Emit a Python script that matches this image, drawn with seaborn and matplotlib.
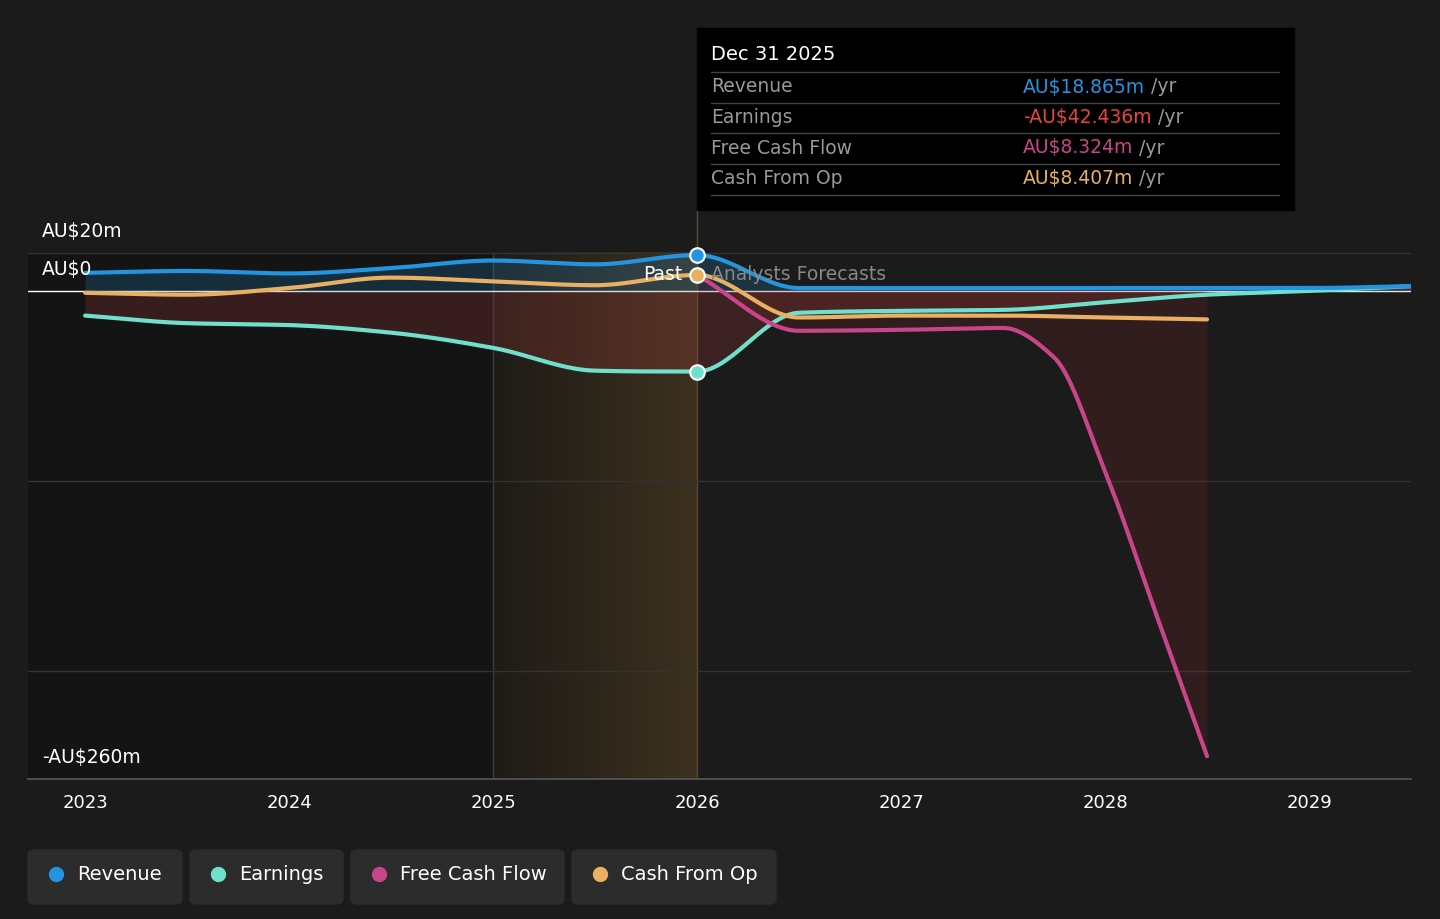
import matplotlib.pyplot as plt
import seaborn as sns
import numpy as np
from matplotlib.patches import FancyBboxPatch, Rectangle

sns.set_theme(style="dark")
plt.rcParams["font.family"] = ["DejaVu Sans"]

BG = "#1b1b1b"
C_REV = "#2394df"
C_EARN = "#6ee0cb"
C_FCF = "#c8458a"
C_CFO = "#e8b063"

# values in AU$m
rev_x = [2023, 2023.5, 2024, 2024.5, 2025, 2025.5, 2026, 2026.5, 2027, 2027.5, 2028, 2028.5, 2029, 2029.5]
rev_y = [9.5, 10.5, 9.2, 12, 16, 14, 18.865, 1.5, 1.5, 1.5, 1.5, 1.5, 1.5, 2.5]
earn_x = [2023, 2023.5, 2024, 2024.5, 2025, 2025.5, 2025.75, 2026, 2026.5, 2027, 2027.5, 2028, 2028.5, 2029, 2029.5]
earn_y = [-13, -17, -18, -22, -30, -42, -42.4, -42.436, -11.5, -10.5, -10, -6, -2, 0, 2.5]
fcf_x = [2026, 2026.5, 2027, 2027.5, 2027.75, 2028, 2028.25, 2028.5]
fcf_y = [8.324, -21, -20.5, -19.5, -35, -95, -170, -245]
cfo_x = [2023, 2023.5, 2024, 2024.5, 2025, 2025.5, 2026, 2026.5, 2027, 2027.5, 2028, 2028.5]
cfo_y = [-1, -2, 1.5, 7, 5, 3, 8.407, -14, -13, -13, -14, -15]


def smooth(x, y, n=40):
    # monotone cubic (PCHIP-like) interpolation
    x = np.asarray(x, float); y = np.asarray(y, float)
    h = np.diff(x); d = np.diff(y) / h
    m = np.zeros_like(y)
    for i in range(1, len(y) - 1):
        if d[i - 1] * d[i] > 0:
            w1 = 2 * h[i] + h[i - 1]; w2 = h[i] + 2 * h[i - 1]
            m[i] = (w1 + w2) / (w1 / d[i - 1] + w2 / d[i])
    m[0] = d[0]; m[-1] = d[-1]
    xs, ys = [], []
    for i in range(len(x) - 1):
        t = np.linspace(0, 1, n, endpoint=False)
        h00 = 2 * t**3 - 3 * t**2 + 1; h10 = t**3 - 2 * t**2 + t
        h01 = -2 * t**3 + 3 * t**2; h11 = t**3 - t**2
        xs.extend(x[i] + h[i] * t)
        ys.extend(h00 * y[i] + h10 * h[i] * m[i] + h01 * y[i + 1] + h11 * h[i] * m[i + 1])
    xs.append(x[-1]); ys.append(y[-1])
    return np.array(xs), np.array(ys)


fig = plt.figure(figsize=(14.4, 9.19), dpi=100, facecolor=BG)
ax = fig.add_axes([28 / 1440, 1 - 779 / 919, (1411 - 28) / 1440, (779 - 210) / 919])
ax.set_facecolor(BG)
ax.set_xlim(2022.72, 2029.5)
ax.set_ylim(-257, 42.6)

# past region
ax.axvspan(2022.72, 2026, ymax=(20 + 257) / 299.6, color="#141414", zorder=0)
grad = np.linspace(0, 1, 256).reshape(1, -1)
ax.imshow(grad, extent=[2025, 2026, -257, 20], aspect="auto", cmap=sns.blend_palette(["#1e1b16", "#3d3120"], as_cmap=True), zorder=0.5)
ax.axvline(2025, color="#3a3a3a", lw=1, zorder=1, ymax=(20 + 257) / 299.6)
ax.axvline(2026, color="#5a4a30", lw=1, zorder=1)

for g in [20, -100, -200]:
    ax.axhline(g, color="#333333", lw=1, zorder=1)
ax.axhline(0, color="white", lw=1, zorder=2)

sx, sy = smooth(rev_x, rev_y)
ax.fill_between(sx, sy, 0, color=C_REV, alpha=0.2, lw=0, zorder=2)
sns.lineplot(x=sx, y=sy, ax=ax, color=C_REV, lw=3, zorder=5)
ex, ey = smooth(earn_x, earn_y)
ax.fill_between(ex, ey, 0, color="#a03a3a", alpha=0.25, lw=0, zorder=2)
sns.lineplot(x=ex, y=ey, ax=ax, color=C_EARN, lw=3, zorder=4)
fx, fy = smooth(fcf_x, fcf_y)
ax.fill_between(fx, fy, 0, color="#8a2a2a", alpha=0.2, lw=0, zorder=2)
sns.lineplot(x=fx, y=fy, ax=ax, color=C_FCF, lw=3, zorder=4)
cx, cy = smooth(cfo_x, cfo_y)
sns.lineplot(x=cx, y=cy, ax=ax, color=C_CFO, lw=3, zorder=5)

for y, c in [(rev_y[6], C_REV), (earn_y[7], C_EARN), (cfo_y[6], C_CFO)]:
    ax.scatter([2026], [y], s=110, color=c, edgecolor="white", lw=1.5, zorder=7)

ax.text(2025.93, 8.5, "Past", color="white", fontsize=13.5, ha="right", va="center", zorder=8)
ax.text(2026.07, 8.5, "Analysts Forecasts", color="#888888", fontsize=13.5, ha="left", va="center", zorder=8)

ax.set_xticks(range(2023, 2030))
ax.set_xticklabels([str(y) for y in range(2023, 2030)], color="white", fontsize=13)
ax.tick_params(axis="x", colors="#666666", labelcolor="white", length=5, pad=6)
ax.set_yticks([])
for s in ["top", "right", "left"]:
    ax.spines[s].set_visible(False)
ax.spines["bottom"].set_color("#555555")

fig.text(42 / 1440, 1 - 232 / 919, "AU$20m", color="white", fontsize=13.5, va="center")
fig.text(42 / 1440, 1 - 270 / 919, "AU$0", color="white", fontsize=13.5, va="center")
fig.text(42 / 1440, 1 - 758 / 919, "-AU$260m", color="white", fontsize=13.5, va="center")

# tooltip
fig.patches.append(Rectangle((697 / 1440, 1 - 210 / 919), 597 / 1440, 182 / 919, transform=fig.transFigure, color="black", zorder=10))
fig.text(711 / 1440, 1 - 55 / 919, "Dec 31 2025", color="white", fontsize=14, va="center", zorder=11)
rows = [("Revenue", "AU$18.865m", C_REV), ("Earnings", "-AU$42.436m", "#e84545"),
        ("Free Cash Flow", "AU$8.324m", C_FCF), ("Cash From Op", "AU$8.407m", C_CFO)]
renderer = fig.canvas.get_renderer()
for i, (lab, val, c) in enumerate(rows):
    yy = 87 + i * 30.5
    fig.lines.append(plt.Line2D([711 / 1440, 1279 / 1440], [1 - (yy - 15) / 919] * 2, color="#444444", lw=1, transform=fig.transFigure, zorder=11))
    fig.text(711 / 1440, 1 - yy / 919, lab, color="#999999", fontsize=13.5, va="center", zorder=11)
    t = fig.text(1023 / 1440, 1 - yy / 919, val, color=c, fontsize=13.5, va="center", zorder=11)
    w = t.get_window_extent(renderer).width
    fig.text((1023 + w + 6) / 1440, 1 - yy / 919, "/yr", color="#999999", fontsize=13.5, va="center", zorder=11)
fig.lines.append(plt.Line2D([711 / 1440, 1279 / 1440], [1 - 195 / 919] * 2, color="#444444", lw=1, transform=fig.transFigure, zorder=11))

# legend
items = [("Revenue", C_REV, 28, 182), ("Earnings", C_EARN, 190, 343), ("Free Cash Flow", C_FCF, 351, 564), ("Cash From Op", C_CFO, 572, 776)]
for lab, c, x0, x1 in items:
    fig.patches.append(FancyBboxPatch((x0 / 1440, 1 - 904 / 919), (x1 - x0) / 1440, 54 / 919, boxstyle="round,pad=0,rounding_size=0.005",
                                      transform=fig.transFigure, color="#2c2c2c", zorder=1))
    fig.lines.append(plt.Line2D([(x0 + 28) / 1440], [1 - 874 / 919], marker="o", markersize=10, color=c, lw=0,
                                transform=fig.transFigure, zorder=2))
    fig.text((x0 + 49) / 1440, 1 - 874 / 919, lab, color="white", fontsize=14, va="center")

fig.savefig("out.png", dpi=100, facecolor=BG)
